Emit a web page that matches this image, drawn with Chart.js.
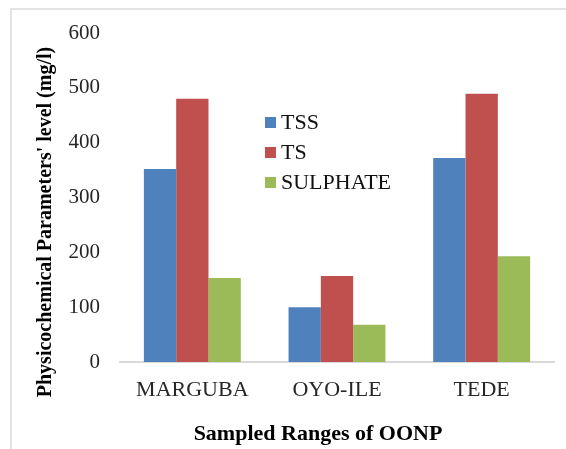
<!DOCTYPE html>
<html>
<head>
<meta charset="utf-8">
<script src="https://cdn.jsdelivr.net/npm/chart.js@4/dist/chart.umd.min.js"></script>
<style>
  body { margin: 0; background: #fff; overflow: hidden; }
  #frame { position: absolute; left: 10px; top: 8px; width: 700px; height: 600px;
           border-top: 2px solid #e3e3e3; border-left: 2px solid #e3e3e3; }
  #wrap { position: absolute; left: 0; top: 0; width: 566px; height: 449px; }
</style>
</head>
<body>
<div id="frame"></div>
<div id="wrap"><canvas id="myChart" width="566" height="449"></canvas></div>
<script>
  var sites = ["MARGUBA", "OYO-ILE", "TEDE"];
  var tssValues = [352, 100, 372];
  var tsValues = [480, 157, 489];
  var sulphateValues = [153, 68, 193];
  var yTicks = [0, 100, 200, 300, 400, 500, 600];

  var serif = "'Liberation Serif', 'Times New Roman', serif";

  // legend sits inside the plot, drawn by hand
  var insideLegend = {
    id: "insideLegend",
    afterDraw: function (chart) {
      var ctx = chart.ctx;
      ctx.save();
      ctx.font = "22px " + serif;
      ctx.textBaseline = "middle";
      chart.data.datasets.forEach(function (ds, i) {
        var y = 122 + i * 30;
        ctx.fillStyle = ds.backgroundColor;
        ctx.fillRect(265, y - 5, 11, 11);
        ctx.fillStyle = "#111";
        ctx.fillText(ds.label, 281, y + 1);
      });
      ctx.restore();
    }
  };

  // axis titles
  var axisTitles = {
    id: "axisTitles",
    afterDraw: function (chart) {
      var ctx = chart.ctx;
      ctx.save();
      ctx.fillStyle = "#000";
      ctx.textAlign = "center";
      ctx.textBaseline = "middle";
      ctx.font = "bold 22px " + serif;
      ctx.fillText("Sampled Ranges of OONP", 318, 434);
      ctx.translate(46, 222);
      ctx.rotate(-Math.PI / 2);
      ctx.font = "bold 20px " + serif;
      ctx.fillText("Physicochemical Parameters' level (mg/l)", 0, 0);
      ctx.restore();
    }
  };

  new Chart("myChart", {
    type: "bar",
    data: {
      labels: sites,
      datasets: [
        { label: "TSS", data: tssValues, backgroundColor: "#4F81BD" },
        { label: "TS", data: tsValues, backgroundColor: "#C0504D" },
        { label: "SULPHATE", data: sulphateValues, backgroundColor: "#9BBB59" }
      ]
    },
    options: {
      responsive: false,
      animation: false,
      layout: { padding: { left: 0, right: 12, top: 33, bottom: 0 } },
      datasets: { bar: { categoryPercentage: 0.67, barPercentage: 1.0 } },
      plugins: { legend: { display: false }, tooltip: { enabled: false } },
      scales: {
        x: {
          grid: { display: false, drawTicks: false },
          border: { display: true, color: "#d9d9d9", width: 2 },
          ticks: { color: "#262626", padding: 15, font: { family: serif, size: 22 } },
          afterFit: function (scale) { scale.height = 87; }
        },
        y: {
          min: 0,
          max: 600,
          afterBuildTicks: function (scale) {
            scale.ticks = yTicks.map(function (v) { return { value: v }; });
          },
          grid: { display: false, drawTicks: false },
          border: { display: false },
          ticks: { color: "#262626", padding: 20, font: { family: serif, size: 21 } },
          afterFit: function (scale) { scale.width = 120; }
        }
      }
    },
    plugins: [insideLegend, axisTitles]
  });
</script>
</body>
</html>
